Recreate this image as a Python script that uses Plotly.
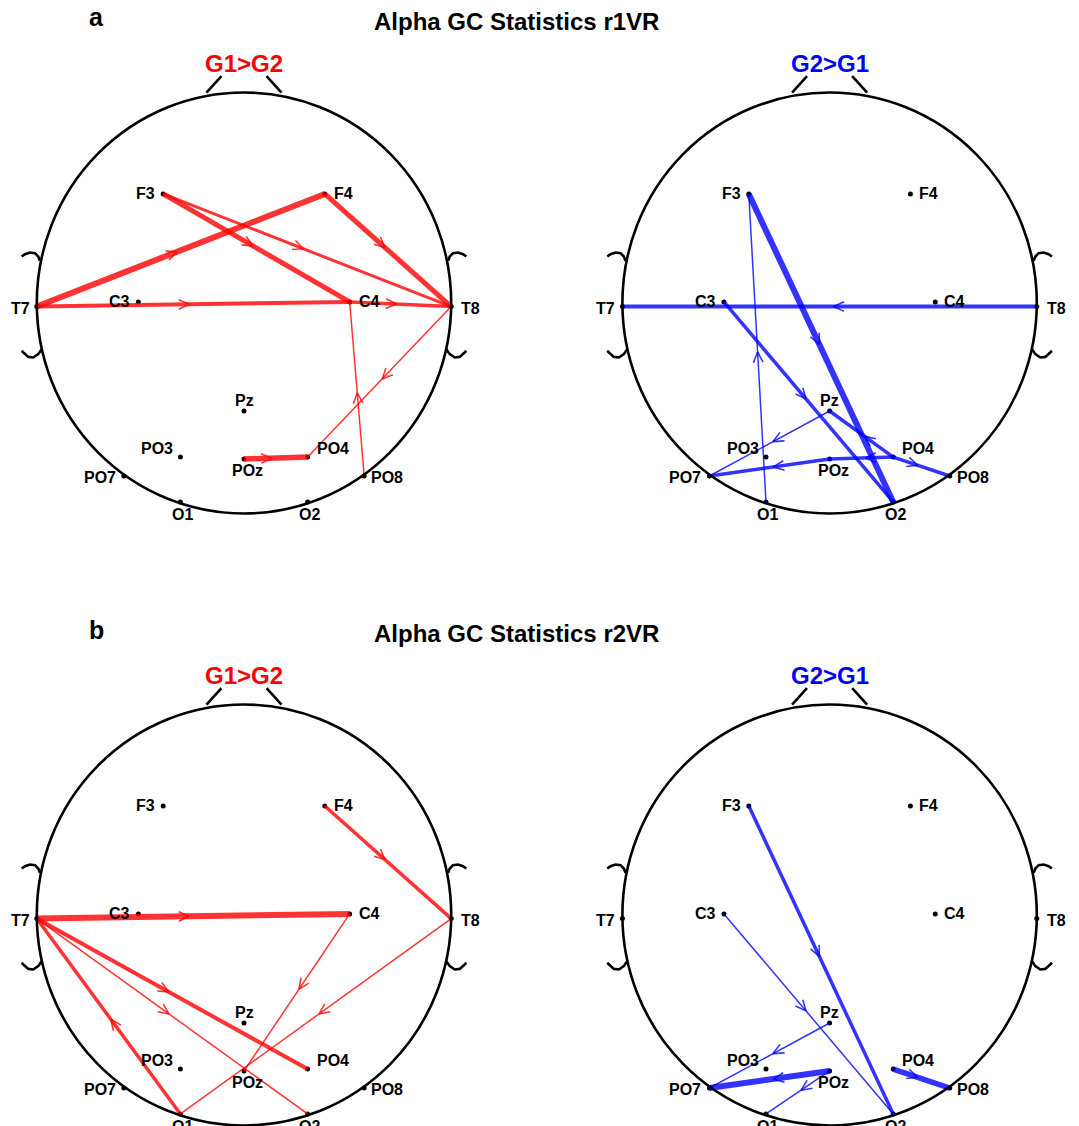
import math
import plotly.graph_objects as go

# ---------------- data ----------------
electrodes = ["F3", "F4", "C3", "C4", "T7", "T8", "Pz", "PO3", "POz", "PO4", "PO7", "PO8", "O1", "O2"]
elec_x = [-0.39, 0.39, -0.51, 0.51, -1.0, 1.0, 0.0, -0.307, 0.0, 0.307, -0.58, 0.58, -0.307, 0.307]
elec_y = [0.518, 0.518, 0.005, 0.005, -0.017, -0.017, -0.513, -0.732, -0.741, -0.732, -0.822, -0.822, -0.945, -0.945]

# r1VR, G1>G2
a_g1g2_from = ["T7", "F3", "F3", "F4", "T7", "C4", "PO8", "T8", "POz"]
a_g1g2_to = ["F4", "C4", "T8", "T8", "C4", "T8", "C4", "PO4", "PO4"]
a_g1g2_stat = [6.0, 5.0, 3.0, 5.0, 4.0, 3.5, 1.5, 1.5, 5.5]

# r1VR, G2>G1
a_g2g1_from = ["T8", "F3", "O1", "C3", "Pz", "PO4", "PO4", "PO4", "POz"]
a_g2g1_to = ["T7", "O2", "F3", "O2", "PO7", "Pz", "PO8", "POz", "PO7"]
a_g2g1_stat = [4.0, 6.0, 1.5, 3.5, 1.5, 3.5, 3.5, 3.5, 3.5]

# r2VR, G1>G2
b_g1g2_from = ["F4", "T7", "T7", "T7", "O1", "C4", "T8"]
b_g1g2_to = ["T8", "C4", "PO4", "O2", "T7", "POz", "O1"]
b_g1g2_stat = [3.5, 6.0, 4.0, 1.5, 3.5, 1.5, 1.5]

# r2VR, G2>G1
b_g2g1_from = ["F3", "C3", "Pz", "POz", "POz", "PO4"]
b_g2g1_to = ["O2", "O2", "PO7", "PO7", "O1", "PO8"]
b_g2g1_stat = [3.5, 1.5, 1.5, 6.0, 1.5, 5.5]

row_titles = ["Alpha GC Statistics r1VR", "Alpha GC Statistics r2VR"]
row_letters = ["a", "b"]
col_titles = ["G1>G2", "G2>G1"]

# ---------------- styles ----------------
PAGE = 8                        # default body margin of the html page
W, H = 1079 - PAGE, 1126 - PAGE  # figure size
FONT = "Liberation Sans, Arial, Helvetica, sans-serif"
SX, SY = 207.2, 210.5          # px per head-radius unit
ROW_OFF = 612.0                # vertical offset of row b (page px)
COL_CX = [244.0 - PAGE, 829.6 - PAGE]
ROW_CY = [303.0 - PAGE, 303.0 + ROW_OFF - PAGE]
COL_DOM = [(0, 531.5), (531.5, W)]
ROW_DOM = [(0, 555), (555, H)]
LINE_RGBA = ["rgba(255,0,0,0.8)", "rgba(0,0,255,0.8)"]
TITLE_COL = ["#ff0000", "#0000ff"]

label_pos = {  # xanchor, xshift, yshift (px)
    "F3": ("right", -6, 0), "F4": ("left", 7, 0),
    "C3": ("right", -6, 0), "C4": ("left", 7, 0),
    "T7": ("right", -5, -2), "T8": ("left", 8, -2),
    "Pz": ("center", 0, 10), "PO3": ("right", -5, 8.5),
    "POz": ("center", 3.5, -12), "PO4": ("left", 7, 8.5),
    "PO7": ("right", -6, -1), "PO8": ("left", 5, -1),
    "O1": ("center", 2, -13), "O2": ("center", 2, -13),
}

# head outline decorations (unit-radius head coordinates)
nose_l = ([-0.181, -0.109], [0.999, 1.078])
ear_top = ([-1.073, -1.057, -1.033, -1.009, -0.993, -0.985],
           [0.221, 0.232, 0.240, 0.237, 0.221, 0.201])
ear_bot = ([-0.976, -0.993, -1.017, -1.041, -1.062, -1.073],
           [-0.219, -0.243, -0.259, -0.256, -0.238, -0.227])

pos = {e: (x, y) for e, x, y in zip(electrodes, elec_x, elec_y)}

panels = [
    (0, 0, a_g1g2_from, a_g1g2_to, a_g1g2_stat),
    (0, 1, a_g2g1_from, a_g2g1_to, a_g2g1_stat),
    (1, 0, b_g1g2_from, b_g1g2_to, b_g1g2_stat),
    (1, 1, b_g2g1_from, b_g2g1_to, b_g2g1_stat),
]


def paper(px, py):
    return (px - PAGE) / W, 1 - (py - PAGE) / H


fig = go.Figure()
layout = dict(width=W, height=H, margin=dict(l=0, r=0, t=0, b=0),
              plot_bgcolor="white", paper_bgcolor="white", showlegend=False)
shapes, annotations = [], []

for i, (row, col, src, dst, stat) in enumerate(panels):
    k = "" if i == 0 else str(i + 1)
    xa, ya = "x" + k, "y" + k
    cx, cy = COL_CX[col], ROW_CY[row]
    x0, x1 = COL_DOM[col]
    yt, yb = ROW_DOM[row]
    layout["xaxis" + k] = dict(domain=[x0 / W, x1 / W], range=[(x0 - cx) / SX, (x1 - cx) / SX],
                              visible=False, fixedrange=True)
    layout["yaxis" + k] = dict(domain=[1 - yb / H, 1 - yt / H], range=[(cy - yb) / SY, (cy - yt) / SY],
                              visible=False, fixedrange=True)

    # head
    shapes.append(dict(type="circle", xref=xa, yref=ya, x0=-1, y0=-1, x1=1, y1=1,
                       line=dict(color="black", width=2.6)))
    for sgn in (-1, 1):
        for (px, py) in (nose_l, ear_top, ear_bot):
            fig.add_trace(go.Scatter(x=[sgn * v for v in px], y=py, mode="lines", xaxis=xa, yaxis=ya,
                                     line=dict(color="black", width=2.6), hoverinfo="skip", cliponaxis=False))

    # electrodes
    fig.add_trace(go.Scatter(x=elec_x, y=elec_y, mode="markers", xaxis=xa, yaxis=ya,
                             marker=dict(color="black", size=5), hoverinfo="skip", cliponaxis=False))
    for e in electrodes:
        anc, xs, ys = label_pos[e]
        annotations.append(dict(x=pos[e][0], y=pos[e][1], xref=xa, yref=ya, text="<b>%s</b>" % e,
                                showarrow=False, xanchor=anc, yanchor="middle", xshift=xs, yshift=ys,
                                font=dict(family=FONT, size=16, color="black")))

    # connections
    chev_x, chev_y = [], []
    for s, d, w in zip(src, dst, stat):
        (ax_, ay_), (bx_, by_) = pos[s], pos[d]
        fig.add_trace(go.Scatter(x=[ax_, bx_], y=[ay_, by_], mode="lines", xaxis=xa, yaxis=ya,
                                 line=dict(color=LINE_RGBA[col], width=w), hoverinfo="skip",
                                 cliponaxis=False))
        dxp, dyp = (bx_ - ax_) * SX, (by_ - ay_) * SY
        L = math.hypot(dxp, dyp)
        ux, uy = dxp / L, dyp / L
        nx, ny = -uy, ux
        mx, my = (ax_ + bx_) / 2 * SX, (ay_ + by_) / 2 * SY
        tx, ty = mx - 4 * ux, my - 4 * uy
        for sg in (1, -1):
            bxp = tx - 10.5 * ux + sg * 4.8 * nx
            byp = ty - 10.5 * uy + sg * 4.8 * ny
            chev_x += [bxp / SX, tx / SX, None]
            chev_y += [byp / SY, ty / SY, None]
    fig.add_trace(go.Scatter(x=chev_x, y=chev_y, mode="lines", xaxis=xa, yaxis=ya,
                             line=dict(color=LINE_RGBA[col], width=1.6), hoverinfo="skip",
                             cliponaxis=False))

    # column header
    hx, hy = paper(cx + PAGE, 63 + row * ROW_OFF)
    annotations.append(dict(x=hx, y=hy, xref="paper", yref="paper",
                            text="<b>%s</b>" % col_titles[col], showarrow=False,
                            xanchor="center", yanchor="middle",
                            font=dict(family=FONT, size=24, color=TITLE_COL[col])))

for row in range(2):
    lx, ly = paper(96, 17.5 + row * ROW_OFF)
    annotations.append(dict(x=lx, y=ly, xref="paper", yref="paper",
                            text="<b>%s</b>" % row_letters[row], showarrow=False,
                            xanchor="center", yanchor="middle",
                            font=dict(family=FONT, size=25, color="black")))
    tx_, ty_ = paper(516, 21 + row * ROW_OFF)
    annotations.append(dict(x=tx_, y=ty_, xref="paper", yref="paper",
                            text="<b>%s</b>" % row_titles[row], showarrow=False,
                            xanchor="center", yanchor="middle",
                            font=dict(family=FONT, size=24, color="black")))

layout["shapes"] = shapes
layout["annotations"] = annotations
fig.update_layout(**layout)
fig.write_html("out.html")
